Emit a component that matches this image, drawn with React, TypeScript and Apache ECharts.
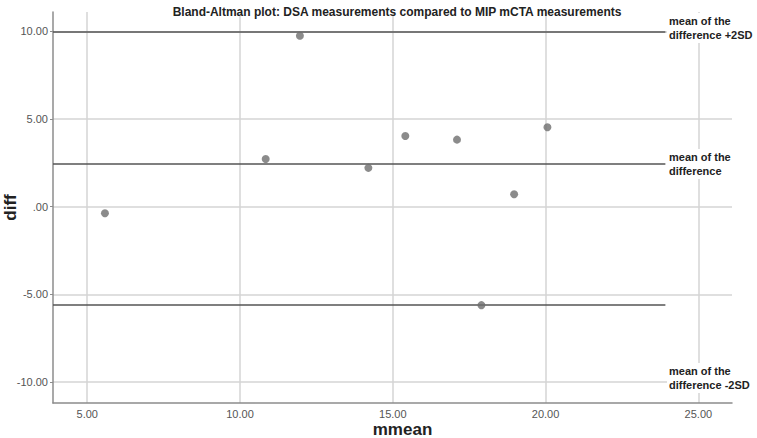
import React, { useEffect, useRef } from "react";
import * as echarts from "echarts";

const title = "Bland-Altman plot: DSA measurements compared to MIP mCTA measurements";
const xName = "mmean";
const yName = "diff";
const meanValues = [5.58, 10.84, 11.96, 14.2, 15.41, 17.1, 17.9, 18.97, 20.06];
const diffValues = [-0.38, 2.72, 9.75, 2.21, 4.03, 3.82, -5.62, 0.71, 4.53];
const refNames = ["mean of the\ndifference +2SD", "mean of the\ndifference", "mean of the\ndifference -2SD"];
const refValues = [10.0, 2.42, -5.6];
const xTicks = [5, 10, 15, 20, 25];
const yTicks = [-10, -5, 0, 5, 10];
const xMin = 3.88;
const xMax = 26.1;
const yMin = -11.2;
const yMax = 11.1;
const refLineEnd = 23.92;

function fmt(v: number): string {
  if (Math.abs(v % 5) > 1e-6) return "";
  if (v === 0) return ".00";
  return v.toFixed(2);
}

export default function App() {
  const ref = useRef<HTMLDivElement>(null);
  useEffect(() => {
    if (!ref.current) return;
    const chart = echarts.init(ref.current, null, { renderer: "svg" });
    const font = "'Liberation Sans', Arial, Helvetica, sans-serif";
    chart.setOption({
      animation: false,
      textStyle: { fontFamily: font },
      title: {
        text: title,
        left: 392,
        textAlign: "center",
        top: 1,
        textStyle: { fontSize: 12, fontWeight: "bold", color: "#222", fontFamily: font },
      },
      grid: { left: 53, right: 25, top: 12, bottom: 35, outerBoundsMode: "none" },
      xAxis: {
        type: "value",
        min: xMin,
        max: xMax,
        name: xName,
        nameLocation: "middle",
        nameGap: 18,
        nameMoveOverlap: false,
        nameTextStyle: { fontSize: 17, fontWeight: "bold", color: "#222", padding: [0, 0, 0, 20] },
        axisLine: { show: true, onZero: false, lineStyle: { color: "#8c8c8c", width: 1.5 } },
        axisTick: { show: false, customValues: xTicks },
        axisLabel: { formatter: fmt, color: "#555", fontSize: 11, margin: 5, customValues: xTicks },
        splitLine: { show: true, lineStyle: { color: "#d4d4d4", width: 1.5 } },
      },
      yAxis: {
        type: "value",
        min: yMin,
        max: yMax,
        name: yName,
        nameLocation: "middle",
        nameGap: 34,
        nameMoveOverlap: false,
        nameTextStyle: { fontSize: 17, fontWeight: "bold", color: "#222" },
        axisLine: { show: true, onZero: false, lineStyle: { color: "#8c8c8c", width: 1.5 } },
        axisTick: { show: true, length: 3, lineStyle: { color: "#8c8c8c" }, customValues: yTicks },
        axisLabel: { formatter: fmt, color: "#555", fontSize: 11, margin: 5, customValues: yTicks },
        splitLine: { show: true, lineStyle: { color: "#d4d4d4", width: 1.5 } },
      },
      series: [
        {
          type: "scatter",
          data: meanValues.map((m, i) => [m, diffValues[i]]),
          symbolSize: 8,
          itemStyle: { color: "#6e6e6e" },
          z: 5,
          markLine: {
            silent: true,
            symbol: ["none", "none"],
            label: { show: false },
            lineStyle: { color: "#555", width: 1.5, type: "solid" },
            data: refValues.map((v) => [{ coord: [xMin, v] }, { coord: [refLineEnd, v] }]),
          },
        },
      ],
      graphic: [
        { type: "text", x: 667, y: 28, style: { text: refNames[0], font: `bold 11px ${font}`, lineHeight: 14, fill: "#222", verticalAlign: "middle", backgroundColor: "#fff", padding: [1, 2] }, z: 10 },
        { type: "text", x: 667, y: 164, style: { text: refNames[1], font: `bold 11px ${font}`, lineHeight: 14, fill: "#222", verticalAlign: "middle", backgroundColor: "#fff", padding: [1, 2] }, z: 10 },
        { type: "text", x: 667, y: 378, style: { text: refNames[2], font: `bold 11px ${font}`, lineHeight: 14, fill: "#222", verticalAlign: "middle", backgroundColor: "#fff", padding: [1, 2] }, z: 10 },
      ],
    });
    return () => chart.dispose();
  }, []);
  return <div ref={ref} style={{ width: 757, height: 438, position: "absolute", left: 0, top: 0 }} />;
}
